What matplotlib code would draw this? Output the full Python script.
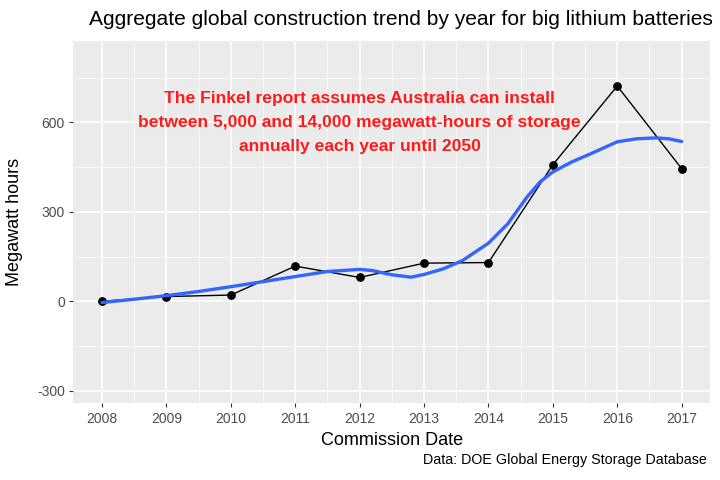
import matplotlib.pyplot as plt
from matplotlib.ticker import MultipleLocator

plt.rcParams['font.family'] = ['Liberation Sans', 'DejaVu Sans']
plt.rcParams['axes.unicode_minus'] = False

# yearly totals (MWh)
years = [2008, 2009, 2010, 2011, 2012, 2013, 2014, 2015, 2016, 2017]
mwh = [0, 16, 21, 118, 80, 128, 130, 458, 722, 445]

# smoothed trend (loess curve)
smooth_x = [2008, 2008.5, 2009, 2009.5, 2010, 2010.5, 2011, 2011.5, 2012, 2012.2,
            2012.5, 2012.8, 2013, 2013.3, 2013.6, 2014, 2014.3, 2014.6, 2014.8,
            2015, 2015.3, 2015.6, 2016, 2016.3, 2016.6, 2016.8, 2017]
smooth_y = [-4, 7, 19, 33, 49, 66, 83, 100, 107, 103,
            89, 81, 90, 109, 137, 195, 260, 350, 400,
            434, 468, 496, 535, 545, 548, 545, 536]

note = ("The Finkel report assumes Australia can install\n"
        "between 5,000 and 14,000 megawatt-hours of storage\n"
        "annually each year until 2050")

fig = plt.figure(figsize=(7.2, 4.8), dpi=100)
ax = fig.add_axes([0.1018, 0.1598, 0.8843, 0.7548])
ax.set_facecolor('#EBEBEB')

ax.plot(years, mwh, color='black', lw=1.0, zorder=3)
ax.scatter(years, mwh, color='black', s=28, zorder=4)
ax.plot(smooth_x, smooth_y, color='#3366FF', lw=2.4, zorder=5, solid_capstyle='round')

ax.text(2012.0, 600, note, color='#FF1A1A', fontsize=12.6, fontweight='bold',
        ha='center', va='center', linespacing=1.78, zorder=6)

ax.set_xlim(2007.554, 2017.44)
ax.set_ylim(-342, 873)
ax.set_xticks(years)
ax.xaxis.set_minor_locator(MultipleLocator(0.5))
ax.set_yticks([-300, 0, 300, 600])
ax.yaxis.set_minor_locator(MultipleLocator(150))

ax.grid(which='major', color='white', lw=1.1)
ax.grid(which='minor', color='white', lw=0.5)
ax.set_axisbelow(True)
for s in ax.spines.values():
    s.set_visible(False)
ax.tick_params(which='major', length=3, color='#333333', labelsize=10,
               labelcolor='#4D4D4D', pad=3)
ax.tick_params(which='minor', length=0)

ax.set_xlabel('Commission Date', fontsize=13, va='center')
ax.xaxis.set_label_coords(0.5, -0.103)
ax.set_ylabel('Megawatt hours', fontsize=13, va='center')
ax.yaxis.set_label_coords(-0.0916, 0.5)

fig.text(0.1236, 0.96, 'Aggregate global construction trend by year for big lithium batteries',
         fontsize=15.1, ha='left', va='center')
fig.text(0.982, 0.0417, 'Data: DOE Global Energy Storage Database', fontsize=10.3,
         ha='right', va='center')

plt.savefig('out.png')
